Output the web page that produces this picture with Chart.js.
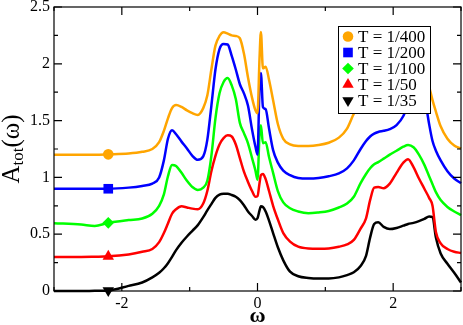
<!DOCTYPE html>
<html>
<head>
<meta charset="utf-8">
<script src="https://cdn.jsdelivr.net/npm/chart.js@4.4.1/dist/chart.umd.min.js"></script>
<style>
  html, body { margin: 0; padding: 0; background: #fff; }
</style>
</head>
<body>
<canvas id="spectra" width="463" height="325"></canvas>
<script>
// frequency grid (omega) and the five spectra
const omega = [
  -3, -2.6, -2.4, -2.2, -1.9, -1.7, -1.55, -1.45,
  -1.38, -1.32, -1.26, -1.2, -1.12, -1.04, -0.96, -0.88,
  -0.8, -0.74, -0.68, -0.62, -0.56, -0.5, -0.44, -0.38,
  -0.32, -0.26, -0.2, -0.14, -0.08, -0.03, 0, 0.03,
  0.05, 0.08, 0.12, 0.17, 0.23, 0.3, 0.38, 0.48,
  0.6, 0.75, 0.9, 1.05, 1.2, 1.32, 1.42, 1.52,
  1.6, 1.66, 1.72, 1.78, 1.86, 1.95, 2.05, 2.15,
  2.22, 2.3, 2.38, 2.46, 2.53, 2.58, 2.63, 2.7,
  2.8, 2.9, 3
];

const aT400 = [
  1.2, 1.2, 1.2, 1.203, 1.21, 1.225, 1.25, 1.31,
  1.41, 1.52, 1.61, 1.637, 1.62, 1.59, 1.565, 1.55,
  1.61, 1.72, 1.95, 2.16, 2.245, 2.277, 2.265, 2.25,
  2.245, 2.225, 2.09, 1.88, 1.7, 1.59, 1.565, 2.05,
  2.28, 1.96, 1.975, 1.86, 1.68, 1.47, 1.34, 1.29,
  1.277, 1.277, 1.285, 1.305, 1.35, 1.43, 1.56, 1.66,
  1.72, 1.76, 1.79, 1.81, 1.83, 1.86, 1.92, 2.0,
  2.05, 2.08, 2.05, 1.95, 1.8, 1.68, 1.58, 1.45,
  1.34, 1.28, 1.255
];

const aT200 = [
  0.9, 0.9, 0.9, 0.9, 0.91, 0.925, 0.945, 1.0,
  1.15, 1.34, 1.415, 1.38, 1.315, 1.255, 1.19, 1.155,
  1.185, 1.33, 1.63, 1.95, 2.13, 2.175, 2.17, 2.07,
  1.95, 1.82, 1.74, 1.63, 1.42, 1.27, 1.2, 1.8,
  1.92, 1.62, 1.6, 1.43, 1.24, 1.13, 1.06, 1.02,
  0.995, 0.99, 0.995, 1.01, 1.035, 1.08, 1.15, 1.25,
  1.32, 1.36, 1.385, 1.4, 1.41, 1.425, 1.46, 1.54,
  1.65, 1.78, 1.85, 1.72, 1.47, 1.32, 1.235, 1.15,
  1.055, 0.99, 0.948
];

const aT100 = [
  0.597, 0.585, 0.572, 0.6, 0.625, 0.638, 0.68, 0.75,
  0.85, 1.01, 1.11, 1.1, 1.04, 0.97, 0.915, 0.89,
  0.91, 0.97, 1.19, 1.52, 1.74, 1.84, 1.875, 1.81,
  1.69, 1.48, 1.39, 1.3, 1.17, 1.06, 0.98, 1.38,
  1.46, 1.3, 1.31, 1.18, 1.04, 0.88, 0.78, 0.728,
  0.7, 0.685, 0.692, 0.705, 0.735, 0.77, 0.83, 0.95,
  1.03, 1.08, 1.115, 1.135, 1.165, 1.2, 1.235, 1.27,
  1.285, 1.265, 1.2, 1.11, 1.01, 0.94, 0.87, 0.8,
  0.74, 0.7, 0.668
];

const aT50 = [
  0.3, 0.3, 0.302, 0.305, 0.322, 0.345, 0.37, 0.43,
  0.51, 0.595, 0.68, 0.72, 0.745, 0.735, 0.725, 0.72,
  0.77, 0.88, 1.055, 1.19, 1.29, 1.345, 1.37, 1.36,
  1.29, 1.17, 1.05, 0.96, 0.88, 0.83, 0.835, 0.95,
  1.02, 1.03, 0.985, 0.88, 0.75, 0.63, 0.51, 0.435,
  0.39, 0.374, 0.372, 0.375, 0.39, 0.41, 0.45, 0.55,
  0.64, 0.8, 0.91, 0.915, 0.905, 0.945, 1.04, 1.13,
  1.16, 1.09, 0.99, 0.9, 0.82, 0.75, 0.52, 0.42,
  0.37, 0.345, 0.335
];

const aT35 = [
  0, 0, 0.002, 0.005, 0.045, 0.075, 0.12, 0.16,
  0.2, 0.245, 0.3, 0.36, 0.425, 0.48, 0.53, 0.58,
  0.65, 0.71, 0.765, 0.82, 0.848, 0.855, 0.855, 0.845,
  0.83, 0.8, 0.755, 0.7, 0.66, 0.628, 0.64, 0.71,
  0.745, 0.74, 0.7, 0.62, 0.51, 0.385, 0.27, 0.17,
  0.13, 0.115, 0.11, 0.11, 0.12, 0.14, 0.165, 0.22,
  0.31, 0.47, 0.59, 0.605, 0.565, 0.545, 0.555, 0.575,
  0.59, 0.6, 0.615, 0.635, 0.655, 0.65, 0.47, 0.33,
  0.24, 0.16, 0.075
];

const seriesLabels = ['T = 1/400', 'T = 1/200', 'T = 1/100', 'T = 1/50', 'T = 1/35'];
const seriesValues = [aT400, aT200, aT100, aT50, aT35];
const seriesColors = ['#ffa500', '#0000ff', '#00ff00', '#ff0000', '#000000'];
const seriesMarkers = ['circle', 'rect', 'rectRot', 'triangle', 'triangle'];
const markerRotation = [0, 0, 0, 0, 180];
const markerSize = [5.3, 6.8, 5.8, 6.6, 6.6];

// one symbol per curve sits at this omega
const markerOmega = -2.2;
const markerIdx = omega.indexOf(markerOmega);

const serif = '"Liberation Serif", "Times New Roman", serif';

const datasets = seriesLabels.map((label, k) => ({
  label: label,
  data: omega.map((w, i) => ({ x: w, y: seriesValues[k][i] })),
  borderColor: seriesColors[k],
  backgroundColor: seriesColors[k],
  borderWidth: 2.5,
  cubicInterpolationMode: 'monotone',
  pointStyle: seriesMarkers[k],
  pointRotation: markerRotation[k],
  pointBorderWidth: 0,
  pointHoverRadius: 0,
  pointRadius: c => (c.dataIndex === markerIdx ? markerSize[k] : 0),
  clip: false
}));

// box frame plus inward ticks on all four sides
const frameTicks = {
  id: 'frameTicks',
  afterDatasetsDraw(chart) {
    const { ctx, chartArea: a, scales: { x, y } } = chart;
    ctx.save();
    ctx.strokeStyle = '#000';
    ctx.lineWidth = 1.2;
    ctx.strokeRect(a.left, a.top, a.right - a.left, a.bottom - a.top);
    ctx.beginPath();
    x.ticks.forEach(t => {
      const px = x.getPixelForValue(t.value);
      const len = t.label ? 8 : 4;
      ctx.moveTo(px, a.bottom); ctx.lineTo(px, a.bottom - len);
      ctx.moveTo(px, a.top); ctx.lineTo(px, a.top + len);
    });
    y.ticks.forEach(t => {
      const py = y.getPixelForValue(t.value);
      const len = t.label ? 8 : 4;
      ctx.moveTo(a.left, py); ctx.lineTo(a.left + len, py);
      ctx.moveTo(a.right, py); ctx.lineTo(a.right - len, py);
    });
    ctx.stroke();
    ctx.restore();
  }
};

// boxed legend inside the plot, top right
const boxLegend = {
  id: 'boxLegend',
  afterDatasetsDraw(chart) {
    const ctx = chart.ctx;
    const left = 338, top = 26, w = 92, h = 87;
    ctx.save();
    ctx.fillStyle = '#fff';
    ctx.fillRect(left, top, w, h);
    ctx.strokeStyle = '#000';
    ctx.lineWidth = 1;
    ctx.strokeRect(left + 0.5, top + 0.5, w, h);
    ctx.font = '17px ' + serif;
    ctx.textBaseline = 'middle';
    ctx.textAlign = 'left';
    chart.data.datasets.forEach((ds, k) => {
      const cy = top + 10.5 + k * 16;
      ctx.fillStyle = seriesColors[k];
      Chart.helpers.drawPoint(ctx, {
        pointStyle: seriesMarkers[k],
        rotation: markerRotation[k],
        radius: markerSize[k],
        borderWidth: 0
      }, left + 10, cy);
      ctx.fillStyle = '#000';
      ctx.fillText(ds.label, left + 20, cy + 1);
    });
    ctx.restore();
  }
};

// axis titles, the y one with a subscript
const axisTitles = {
  id: 'axisTitles',
  afterDraw(chart) {
    const { ctx, chartArea: a } = chart;
    ctx.save();
    ctx.fillStyle = '#000';
    ctx.textBaseline = 'alphabetic';

    ctx.font = 'bold 22px ' + serif;
    ctx.textAlign = 'center';
    ctx.fillText('ω', (a.left + a.right) / 2, 322);

    const big = '25px ' + serif, small = '17px ' + serif;
    ctx.textAlign = 'left';
    ctx.font = big;
    const wA = ctx.measureText('A').width;
    const wP = ctx.measureText('(ω)').width;
    ctx.font = small;
    const wS = ctx.measureText('tot').width;
    const total = wA + wS + wP;
    ctx.translate(19, (a.top + a.bottom) / 2 + total / 2);
    ctx.rotate(-Math.PI / 2);
    ctx.font = big;
    ctx.fillText('A', 0, 0);
    ctx.font = small;
    ctx.fillText('tot', wA, 4);
    ctx.font = big;
    ctx.fillText('(ω)', wA + wS, 0);
    ctx.restore();
  }
};

new Chart(document.getElementById('spectra'), {
  type: 'line',
  data: { datasets: datasets },
  options: {
    responsive: false,
    animation: false,
    layout: { padding: { top: 7, right: 2, left: 0, bottom: 0 } },
    plugins: {
      legend: { display: false },
      tooltip: { enabled: false }
    },
    scales: {
      x: {
        type: 'linear',
        min: -3,
        max: 3,
        grid: { display: false, drawTicks: false },
        border: { display: false },
        ticks: {
          stepSize: 1,
          autoSkip: false,
          maxRotation: 0,
          padding: 3,
          color: '#000',
          font: { family: serif, size: 16 },
          callback: v => (v % 2 === 0 ? String(v) : '')
        },
        afterFit: s => { s.height = 34; s.paddingLeft = 0; s.paddingRight = 0; }
      },
      y: {
        type: 'linear',
        min: 0,
        max: 2.5,
        grid: { display: false, drawTicks: false },
        border: { display: false },
        ticks: {
          stepSize: 0.25,
          autoSkip: false,
          padding: 4,
          color: '#000',
          font: { family: serif, size: 16 },
          callback: v => (Math.round(v * 4) % 2 === 0 ? String(v) : '')
        },
        afterFit: s => { s.width = 54; s.paddingTop = 0; s.paddingBottom = 0; }
      }
    }
  },
  plugins: [frameTicks, boxLegend, axisTitles]
});
</script>
</body>
</html>
